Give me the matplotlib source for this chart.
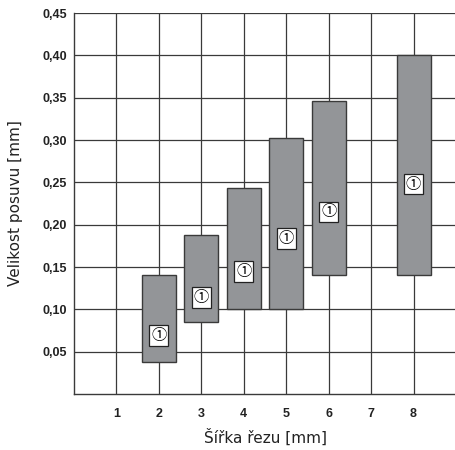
import numpy as np
import matplotlib.pyplot as plt

# floating bars: width of cut vs. feed size
cut_width = [2, 3, 4, 5, 6, 8]
shift_low = [0.038, 0.085, 0.100, 0.100, 0.141, 0.140]
shift_high = [0.140, 0.188, 0.243, 0.302, 0.346, 0.400]
label_pos = [0.069, 0.114, 0.145, 0.184, 0.215, 0.248]
x_ticks = [1, 2, 3, 4, 5, 6, 7, 8]
y_ticks = [0.05, 0.10, 0.15, 0.20, 0.25, 0.30, 0.35, 0.40, 0.45]

fig = plt.figure(figsize=(4.56, 4.5), dpi=100)
ax = fig.add_axes([0.1623, 0.1244, 0.8377, 0.8467])

heights = np.array(shift_high) - np.array(shift_low)
ax.bar(cut_width, heights, bottom=shift_low, width=0.8,
       color="#939598", edgecolor="#3a3a3a", linewidth=1.0, zorder=3)

for x, y in zip(cut_width, label_pos):
    ax.text(x, y, "\u2460", ha="center", va="center", fontsize=11,
            family=["Noto Sans CJK SC", "DejaVu Sans"], zorder=4,
            bbox=dict(boxstyle="square,pad=0.12", fc="white", ec="#222222", lw=0.9))

ax.set_xlim(0, 9)
ax.set_ylim(0, 0.45)
ax.set_xticks(x_ticks)
ax.set_yticks(y_ticks)
ax.set_yticklabels([f"{v:.2f}".replace(".", ",") for v in y_ticks])
ax.grid(True, color="#3a3a3a", linewidth=0.9, zorder=0)
ax.set_axisbelow(True)

for s in ["top", "right"]:
    ax.spines[s].set_visible(False)
for s in ["left", "bottom"]:
    ax.spines[s].set_color("#3a3a3a")
    ax.spines[s].set_linewidth(1.0)

ax.tick_params(length=0, pad=5)
ax.tick_params(axis="x", pad=10)
for lab in ax.get_xticklabels() + ax.get_yticklabels():
    lab.set_fontfamily("Liberation Sans")
    lab.set_fontweight("bold")
    lab.set_fontsize(9)
    lab.set_color("#222222")

ax.set_xlabel("Šířka řezu [mm]", fontsize=11, family="DejaVu Sans", color="#222222", labelpad=6)
ax.set_ylabel("Velikost posuvu [mm]", fontsize=11, family="DejaVu Sans", color="#222222", labelpad=14)

fig.savefig("out.png", dpi=100)
